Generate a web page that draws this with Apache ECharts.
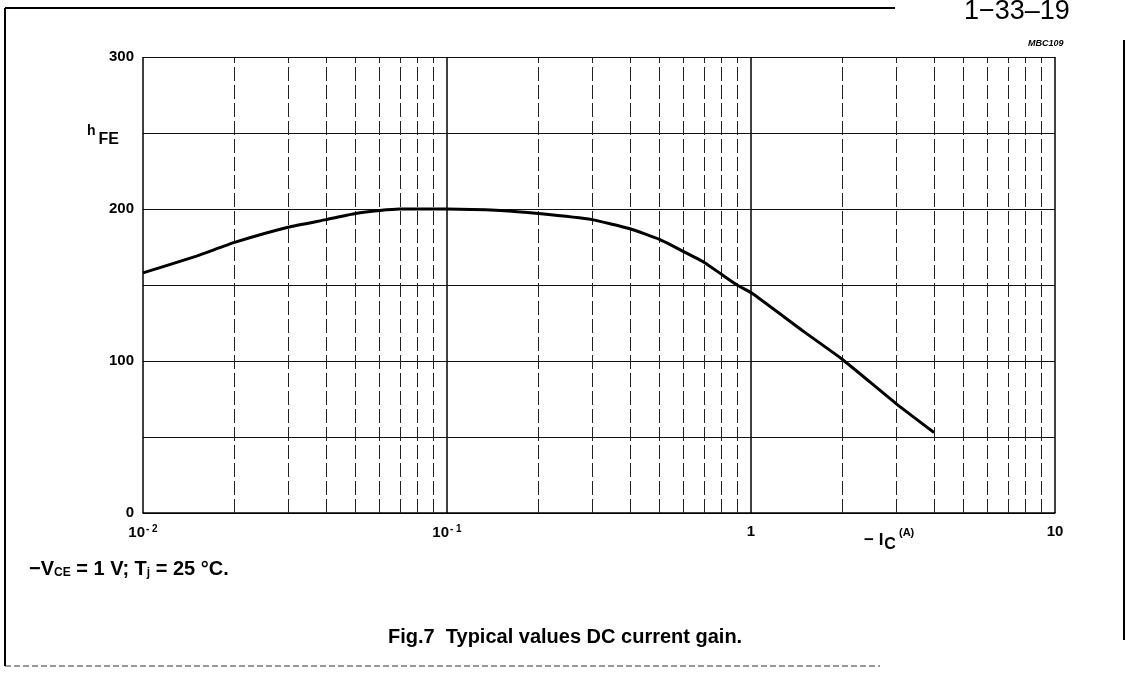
<!DOCTYPE html>
<html>
<head>
<meta charset="utf-8">
<script src="https://cdn.jsdelivr.net/npm/echarts@6/dist/echarts.min.js"></script>
<style>
  html, body { margin: 0; padding: 0; background: #fff; }
  #chart { width: 1128px; height: 677px; }
</style>
</head>
<body>
<div id="chart"></div>
<script>
// collector current -I_C (A), log scale
const icA = [0.01, 0.015, 0.02, 0.03, 0.04, 0.05, 0.06, 0.07, 0.08, 0.1, 0.15, 0.2, 0.3, 0.4, 0.5, 0.6, 0.7, 0.8, 0.9, 1, 1.5, 2, 3, 4]
// typical DC current gain hFE
const hFE = [158, 169, 178, 188, 193, 197, 199, 200, 200, 200, 199, 197, 193, 187, 180, 172, 165, 157, 150, 145, 119, 101, 72, 53]

// vertical grid positions (1..9 per decade)
const gridX = [
  0.01, 0.02, 0.03, 0.04, 0.05, 0.06, 0.07, 0.08, 0.09,
  0.1, 0.2, 0.3, 0.4, 0.5, 0.6, 0.7, 0.8, 0.9,
  1, 2, 3, 4, 5, 6, 7, 8, 9, 10
]
const decadeTicks = [0.01, 0.1, 1, 10]
const xTickLabels = ['{b|10}{s|- 2}', '{b|10}{s|- 1}', '{b|1}', '{b|10}']
const yTickLabels = [0, 100, 200, 300]

const chart = echarts.init(document.getElementById('chart'))

const isDecade = v => decadeTicks.some(d => Math.abs(d - v) < 1e-9)

const option = {
  animation: false,
  textStyle: { fontFamily: 'Liberation Sans, Arial, sans-serif', color: '#000' },
  grid: { left: 143, right: 73, top: 57, bottom: 164 },
  xAxis: {
    type: 'log',
    logBase: 10,
    min: 0.01,
    max: 10,
    axisLine: { show: true, lineStyle: { color: '#000', width: 1.5 } },
    axisTick: { show: false },
    splitLine: { show: false },
    axisLabel: {
      margin: 11,
      formatter: v => {
        const i = decadeTicks.findIndex(d => Math.abs(d - v) < 1e-9)
        return i >= 0 ? xTickLabels[i] : ''
      },
      rich: {
        b: { fontSize: 15, fontWeight: 'bold', color: '#000' },
        s: { fontSize: 10, fontWeight: 'bold', color: '#000', verticalAlign: 'top', padding: [0, 0, 7, 1] }
      }
    }
  },
  yAxis: {
    type: 'value',
    min: 0,
    max: 300,
    interval: 50,
    axisLine: { show: false },
    axisTick: { show: false },
    splitLine: { show: true, lineStyle: { color: '#111', width: 1 } },
    axisLabel: {
      margin: 9,
      fontSize: 15,
      fontWeight: 'bold',
      color: '#000',
      formatter: v => (yTickLabels.includes(v) ? String(v) : '')
    }
  },
  series: [
    {
      type: 'line',
      data: icA.map((x, i) => [x, hFE[i]]),
      smooth: 0.15,
      symbol: 'none',
      lineStyle: { color: '#000', width: 3 },
      z: 5,
      markLine: {
        silent: true,
        symbol: 'none',
        label: { show: false },
        animation: false,
        data: gridX.map(v => ({
          xAxis: v,
          lineStyle: isDecade(v)
            ? { color: '#000', width: 1.5, type: 'solid' }
            : { color: '#222', width: 1, type: [14, 4] }
        }))
      }
    }
  ],
  graphic: [
    // page frame
    { type: 'line', shape: { x1: 5, y1: 8, x2: 895, y2: 8 }, style: { stroke: '#000', lineWidth: 2 } },
    { type: 'line', shape: { x1: 5, y1: 8, x2: 5, y2: 666 }, style: { stroke: '#000', lineWidth: 2 } },
    { type: 'line', shape: { x1: 5, y1: 666, x2: 880, y2: 666 }, style: { stroke: '#333', lineWidth: 1, lineDash: [6, 3] } },
    { type: 'line', shape: { x1: 1124, y1: 40, x2: 1124, y2: 640 }, style: { stroke: '#000', lineWidth: 2 } },
    {
      type: 'text', left: 964, top: -2,
      style: { text: '1\u221233\u201319', font: '27px "Liberation Sans", sans-serif', fill: '#000' }
    },
    {
      type: 'text', left: 1028, top: 39,
      style: { text: 'MBC109', font: 'italic bold 9px "Liberation Sans", Arial, sans-serif', fill: '#000' }
    },
    {
      type: 'text', left: 87, top: 124,
      style: {
        text: '{h|h}{s|FE}',
        rich: {
          h: { fontSize: 14, fontWeight: 'bold', verticalAlign: 'top', fill: '#000', fontFamily: 'Liberation Sans' },
          s: { fontSize: 16, fontWeight: 'bold', padding: [8, 0, 0, 3], fill: '#000', fontFamily: 'Liberation Sans' }
        }
      }
    },
    {
      type: 'text', left: 864, top: 527,
      style: {
        text: '{m|\u2212 I}{c|C}{a| (A)}',
        rich: {
          m: { fontSize: 17, fontWeight: 'bold', fill: '#000', fontFamily: 'Liberation Sans' },
          c: { fontSize: 16, fontWeight: 'bold', padding: [10, 0, 0, 1], fill: '#000', fontFamily: 'Liberation Sans' },
          a: { fontSize: 11, fontWeight: 'bold', padding: [0, 0, 4, 0], verticalAlign: 'top', fill: '#000', fontFamily: 'Liberation Sans' }
        }
      }
    },
    {
      type: 'text', left: 29, top: 559,
      style: {
        text: '{t|\u2212V}{s|CE}{t| = 1 V; T}{s|j}{t| = 25 \u00b0C.}',
        rich: {
          t: { fontSize: 20, fontWeight: 'bold', fill: '#000', fontFamily: 'Liberation Sans' },
          s: { fontSize: 12, fontWeight: 'bold', padding: [8, 0, 0, 0], fill: '#000', fontFamily: 'Liberation Sans' }
        }
      }
    },
    {
      type: 'text', left: 388, top: 627,
      style: { text: 'Fig.7  Typical values DC current gain.', font: 'bold 20px "Liberation Sans", Arial, sans-serif', fill: '#000' }
    }
  ]
}

chart.setOption(option)
window.addEventListener('resize', () => chart.resize())
</script>
</body>
</html>
